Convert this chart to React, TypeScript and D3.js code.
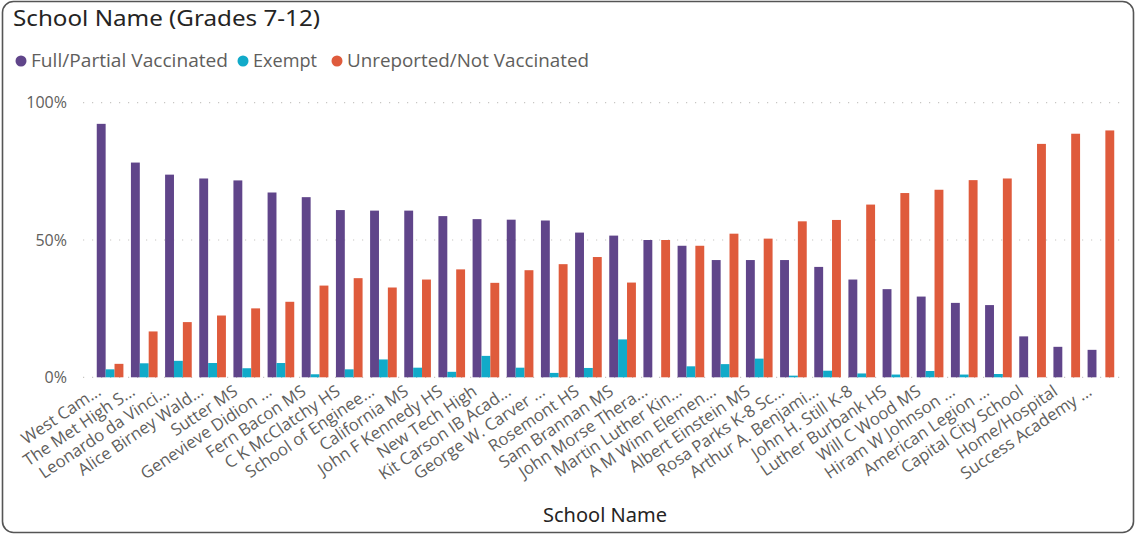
import React from "react";
import * as d3 from "d3";

const schools = [
  "West Cam...", "The Met High S...", "Leonardo da Vinci...", "Alice Birney Wald...", "Sutter MS",
  "Genevieve Didion ...", "Fern Bacon MS", "C K McClatchy HS", "School of Enginee...", "California MS",
  "John F Kennedy HS", "New Tech High", "Kit Carson IB Acad...", "George W. Carver ...", "Rosemont HS",
  "Sam Brannan MS", "John Morse Thera...", "Martin Luther Kin...", "A M Winn Elemen...", "Albert Einstein MS",
  "Rosa Parks K-8 Sc...", "Arthur A. Benjami...", "John H. Still K-8", "Luther Burbank HS", "Will C Wood MS",
  "Hiram W Johnson ...", "American Legion ...", "Capital City School", "Home/Hospital", "Success Academy ...",
];

const vaccinated = [
  92.3, 78.2, 73.8, 72.4, 71.7, 67.3, 65.6, 60.9, 60.7, 60.7,
  58.7, 57.6, 57.4, 57.1, 52.7, 51.6, 50.0, 47.9, 42.7, 42.7,
  42.7, 40.2, 35.6, 32.1, 29.4, 27.1, 26.3, 14.9, 11.1, 10.0,
];
const exempt = [
  2.9, 5.1, 6.0, 5.2, 3.3, 5.2, 1.1, 2.9, 6.5, 3.5,
  2.0, 7.8, 3.5, 1.6, 3.4, 13.8, 0, 4.0, 4.8, 6.8,
  0.6, 2.4, 1.4, 1.0, 2.3, 1.0, 1.2, 0, 0, 0,
];
const unreported = [
  4.9, 16.7, 20.1, 22.5, 25.1, 27.5, 33.4, 36.1, 32.7, 35.6,
  39.3, 34.4, 39.0, 41.2, 43.8, 34.5, 50.0, 47.9, 52.3, 50.5,
  56.8, 57.3, 62.9, 67.1, 68.3, 71.8, 72.4, 85.0, 88.7, 89.9,
];

const seriesNames = ["Full/Partial Vaccinated", "Exempt", "Unreported/Not Vaccinated"];
const seriesColors = ["#60458A", "#11AAC9", "#DF5B3C"];
const yTicks = [0, 50, 100];

const W = 1135;
const H = 534;

export default function App() {
  const series = [vaccinated, exempt, unreported];
  const x = d3.scaleBand<string>().domain(schools).range([93, 1118]).paddingInner(0.22).paddingOuter(0.11);
  const xs = d3.scaleBand<number>().domain([0, 1, 2]).range([0, x.bandwidth()]);
  const y = d3.scaleLinear().domain([0, 100]).range([377.3, 102.7]);
  const labelFont = "'Open Sans', sans-serif";

  const legendX = [21, 243, 337];
  const legendLen = [197, 64, 242];

  return (
    <svg width={W} height={H} style={{ position: "absolute", left: 0, top: 0, background: "#fff" }}>
      <rect x={2.5} y={1.5} width={1131} height={531} rx={11} ry={11} fill="#fff" stroke="#555" strokeWidth={1.6} />
      <text x={13} y={26} fontFamily="'Noto Sans', sans-serif" fontSize={21} fill="#252423" textLength={307} lengthAdjust="spacingAndGlyphs">
        School Name (Grades 7-12)
      </text>
      {seriesNames.map((n, i) => (
        <g key={n}>
          <circle cx={legendX[i]} cy={61} r={5.5} fill={seriesColors[i]} />
          <text x={legendX[i] + 10} y={61} dy="0.35em" fontFamily={labelFont} fontSize={18} fill="#605E5C" textLength={legendLen[i]} lengthAdjust="spacingAndGlyphs">
            {n}
          </text>
        </g>
      ))}
      {yTicks.map((t) => (
        <g key={t}>
          <line x1={83} x2={1123} y1={y(t)} y2={y(t)} stroke="#C8C6C4" strokeWidth={1.2} strokeDasharray="1.2,7.8" />
          <text x={67} y={y(t)} dy="0.35em" textAnchor="end" fontFamily={labelFont} fontSize={16} fill="#605E5C">
            {t}%
          </text>
        </g>
      ))}
      {schools.map((s, i) => (
        <g key={s} transform={`translate(${x(s)},0)`}>
          {series.map((vals, k) => (
            <rect
              key={k}
              x={xs(k)}
              width={xs.bandwidth()}
              y={y(vals[i])}
              height={y(0) - y(vals[i])}
              fill={seriesColors[k]}
            />
          ))}
        </g>
      ))}
      {schools.map((s) => {
        const cx = (x(s) as number) + x.bandwidth() / 2 - 8;
        return (
          <text
            key={s}
            transform={`translate(${cx},${394}) rotate(-34)`}
            textAnchor="end"
            fontFamily={labelFont}
            fontSize={16.7}
            fill="#605E5C"
          >
            {s}
          </text>
        );
      })}
      <text x={605} y={522} textAnchor="middle" fontFamily="'Noto Sans', sans-serif" fontSize={19} fill="#252423" textLength={124} lengthAdjust="spacingAndGlyphs">
        School Name
      </text>
    </svg>
  );
}
